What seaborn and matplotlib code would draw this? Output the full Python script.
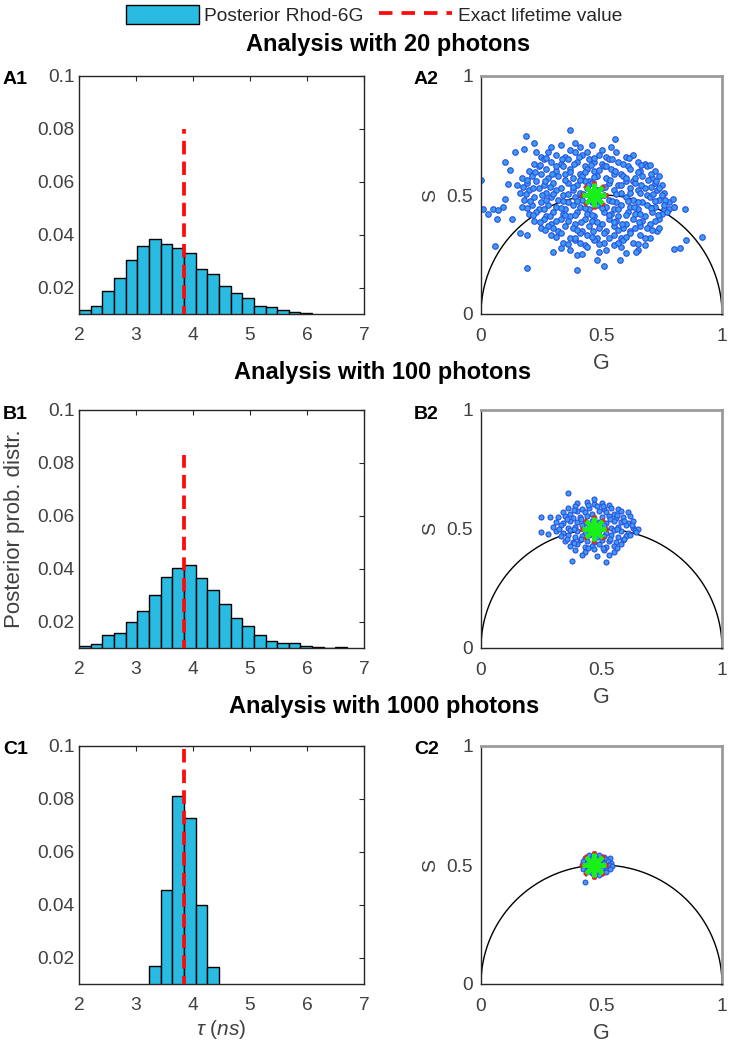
import numpy as np
import pandas as pd
import matplotlib
matplotlib.use("Agg")
import matplotlib.pyplot as plt
import seaborn as sns
from matplotlib.patches import Patch
from matplotlib.lines import Line2D

# ---------------- data ----------------
BIN_START = 2.0
BIN_W = 0.2045
TAU_EXACT = 3.85

hist_A = [0.0115, 0.0131, 0.0186, 0.0238, 0.0304, 0.0356, 0.0384, 0.0366, 0.0351, 0.0330,
          0.0271, 0.0250, 0.0206, 0.0181, 0.0159, 0.0130, 0.0127, 0.0116, 0.0107, 0.0102]
hist_B = [0.0106, 0.0116, 0.0150, 0.0155, 0.0198, 0.0241, 0.0300, 0.0370, 0.0403, 0.0413,
          0.0366, 0.0318, 0.0268, 0.0213, 0.0183, 0.0150, 0.0127, 0.0119, 0.0118, 0.0106,
          0.0103, 0.0100, 0.0103]
hist_C = [0.0169, 0.0454, 0.0811, 0.0728, 0.0397, 0.0163]
hist_first_bin = [0, 0, 6]
line_top = [0.080, 0.083, 0.100]

x_ticks = [2, 3, 4, 5, 6, 7]
y_ticks = [0.02, 0.04, 0.06, 0.08, 0.1]
y_tick_labels = ["0.02", "0.04", "0.06", "0.08", "0.1"]
ph_ticks = [0, 0.5, 1]
ph_tick_labels = ["0", "0.5", "1"]

titles = ["Analysis with 20 photons", "Analysis with 100 photons", "Analysis with 1000 photons"]
panel_left = ["A1", "B1", "C1"]
panel_right = ["A2", "B2", "C2"]
legend_labels = ["Posterior Rhod-6G", "Exact lifetime value"]

phasor_exact = (0.47, 0.50)

phasor_A = [
    (0.29, 0.70), (0.33, 0.71), (0.37, 0.69), (0.41, 0.70), (0.46, 0.71), (0.50, 0.69), (0.54, 0.70), (0.39, 0.72), (0.44, 0.68),
    (0.25, 0.66), (0.28, 0.68), (0.31, 0.67), (0.35, 0.66), (0.39, 0.68), (0.42, 0.67), (0.45, 0.65), (0.49, 0.67), (0.52, 0.66), (0.56, 0.68), (0.60, 0.66), (0.63, 0.67),
    (0.22, 0.63), (0.26, 0.65), (0.29, 0.64), (0.33, 0.63), (0.36, 0.65), (0.40, 0.64), (0.43, 0.62), (0.47, 0.64), (0.50, 0.63), (0.53, 0.65), (0.57, 0.64), (0.61, 0.62), (0.65, 0.64), (0.68, 0.63),
    (0.20, 0.60), (0.24, 0.62), (0.27, 0.61), (0.31, 0.60), (0.34, 0.62), (0.37, 0.61), (0.41, 0.59), (0.44, 0.61), (0.47, 0.60), (0.51, 0.62), (0.54, 0.61), (0.58, 0.59), (0.62, 0.61), (0.66, 0.60), (0.69, 0.62), (0.72, 0.60),
    (0.17, 0.57), (0.21, 0.58), (0.25, 0.59), (0.28, 0.57), (0.32, 0.58), (0.35, 0.59), (0.38, 0.57), (0.42, 0.58), (0.45, 0.56), (0.48, 0.58), (0.52, 0.57), (0.55, 0.59), (0.59, 0.58), (0.63, 0.56), (0.67, 0.58), (0.71, 0.57), (0.74, 0.58),
    (0.15, 0.54), (0.19, 0.55), (0.23, 0.56), (0.26, 0.54), (0.30, 0.55), (0.33, 0.53), (0.36, 0.55), (0.40, 0.54), (0.43, 0.56), (0.46, 0.55), (0.50, 0.53), (0.53, 0.55), (0.57, 0.54), (0.60, 0.56), (0.64, 0.55), (0.68, 0.53), (0.72, 0.55), (0.75, 0.54),
    (0.16, 0.51), (0.20, 0.52), (0.24, 0.53), (0.27, 0.51), (0.31, 0.52), (0.34, 0.50), (0.38, 0.52), (0.41, 0.51), (0.44, 0.53), (0.48, 0.52), (0.51, 0.50), (0.55, 0.52), (0.58, 0.51), (0.62, 0.53), (0.65, 0.52), (0.69, 0.50), (0.73, 0.52), (0.76, 0.51),
    (0.18, 0.48), (0.22, 0.49), (0.25, 0.47), (0.29, 0.49), (0.32, 0.48), (0.36, 0.47), (0.39, 0.49), (0.42, 0.48), (0.46, 0.47), (0.49, 0.49), (0.53, 0.48), (0.56, 0.47), (0.60, 0.49), (0.63, 0.48), (0.67, 0.47), (0.70, 0.49), (0.74, 0.48), (0.78, 0.47),
    (0.17, 0.45), (0.21, 0.46), (0.24, 0.44), (0.28, 0.46), (0.31, 0.45), (0.35, 0.44), (0.38, 0.46), (0.41, 0.45), (0.45, 0.44), (0.48, 0.46), (0.52, 0.45), (0.55, 0.44), (0.58, 0.46), (0.62, 0.45), (0.65, 0.44), (0.69, 0.46), (0.72, 0.45), (0.76, 0.44), (0.80, 0.45),
    (0.20, 0.42), (0.23, 0.43), (0.27, 0.41), (0.30, 0.43), (0.34, 0.42), (0.37, 0.41), (0.40, 0.43), (0.44, 0.42), (0.47, 0.41), (0.51, 0.43), (0.54, 0.42), (0.57, 0.41), (0.61, 0.43), (0.64, 0.42), (0.68, 0.41), (0.71, 0.43), (0.75, 0.42),
    (0.22, 0.39), (0.26, 0.40), (0.29, 0.38), (0.33, 0.40), (0.36, 0.39), (0.39, 0.38), (0.43, 0.40), (0.46, 0.39), (0.50, 0.38), (0.53, 0.40), (0.56, 0.39), (0.60, 0.38), (0.63, 0.40), (0.67, 0.39), (0.70, 0.38), (0.74, 0.40),
    (0.25, 0.36), (0.28, 0.37), (0.32, 0.35), (0.35, 0.37), (0.38, 0.36), (0.42, 0.35), (0.45, 0.37), (0.49, 0.36), (0.52, 0.35), (0.55, 0.37), (0.59, 0.36), (0.62, 0.35), (0.66, 0.37), (0.69, 0.36), (0.73, 0.35),
    (0.29, 0.33), (0.33, 0.34), (0.37, 0.32), (0.41, 0.34), (0.44, 0.33), (0.48, 0.32), (0.51, 0.34), (0.55, 0.33), (0.58, 0.32), (0.62, 0.34), (0.66, 0.33), (0.70, 0.32),
    (0.34, 0.30), (0.39, 0.31), (0.43, 0.29), (0.47, 0.31), (0.51, 0.30), (0.55, 0.29), (0.59, 0.31), (0.63, 0.30), (0.68, 0.29),
    (0.37, 0.27), (0.44, 0.28), (0.52, 0.27), (0.58, 0.28), (0.65, 0.27),
    (0.37, 0.595), (0.43, 0.595), (0.49, 0.605), (0.555, 0.60), (0.35, 0.565), (0.41, 0.565), (0.47, 0.575), (0.535, 0.565), (0.60, 0.57),
    (0.38, 0.535), (0.445, 0.54), (0.515, 0.535), (0.58, 0.54), (0.36, 0.505), (0.425, 0.505), (0.56, 0.505), (0.62, 0.51),
    (0.40, 0.475), (0.475, 0.475), (0.545, 0.475), (0.61, 0.475), (0.43, 0.445), (0.50, 0.445), (0.57, 0.44),
    (0.39, 0.415), (0.46, 0.415), (0.53, 0.415), (0.60, 0.415), (0.48, 0.385), (0.55, 0.385),
    (0.27, 0.655), (0.335, 0.65), (0.405, 0.66), (0.47, 0.655), (0.545, 0.65), (0.615, 0.655),
    (0.245, 0.625), (0.31, 0.62), (0.385, 0.63), (0.455, 0.625), (0.52, 0.62), (0.59, 0.63), (0.665, 0.625),
    (0.225, 0.595), (0.295, 0.59), (0.65, 0.595), (0.705, 0.59),
    (0.19, 0.565), (0.265, 0.56), (0.64, 0.57), (0.695, 0.565), (0.725, 0.56),
    (0.175, 0.535), (0.215, 0.53), (0.285, 0.535), (0.665, 0.54), (0.705, 0.535), (0.74, 0.53),
    (0.185, 0.505), (0.255, 0.50), (0.30, 0.505), (0.66, 0.51), (0.715, 0.505), (0.75, 0.50),
    (0.205, 0.475), (0.27, 0.48), (0.34, 0.475), (0.65, 0.47), (0.72, 0.475), (0.765, 0.48),
    (0.19, 0.445), (0.26, 0.44), (0.33, 0.445), (0.635, 0.45), (0.705, 0.445), (0.78, 0.44),
    (0.215, 0.415), (0.285, 0.41), (0.35, 0.415), (0.66, 0.42), (0.735, 0.415),
    (0.245, 0.385), (0.31, 0.39), (0.415, 0.385), (0.585, 0.38), (0.655, 0.385), (0.72, 0.39),
    (0.265, 0.355), (0.30, 0.36), (0.40, 0.355), (0.465, 0.35), (0.57, 0.355), (0.64, 0.36), (0.71, 0.355),
    (0.31, 0.325), (0.39, 0.32), (0.46, 0.325), (0.53, 0.32), (0.60, 0.325), (0.68, 0.32),
    (0.36, 0.295), (0.41, 0.30), (0.49, 0.295), (0.57, 0.30), (0.65, 0.295),
    (0.00, 0.561), (0.01, 0.443), (0.03, 0.42), (0.05, 0.443), (0.07, 0.436), (0.065, 0.40), (0.06, 0.287), (0.10, 0.485),
    (0.09, 0.45), (0.10, 0.64), (0.11, 0.547), (0.12, 0.603), (0.14, 0.68), (0.13, 0.40), (0.16, 0.34), (0.19, 0.195),
    (0.185, 0.749), (0.18, 0.694), (0.19, 0.33), (0.22, 0.72), (0.23, 0.68), (0.37, 0.774), (0.40, 0.185), (0.40, 0.248),
    (0.30, 0.26), (0.33, 0.276), (0.42, 0.25), (0.48, 0.227), (0.51, 0.203), (0.49, 0.262), (0.555, 0.735), (0.575, 0.227),
    (0.60, 0.255), (0.645, 0.262), (0.70, 0.627), (0.74, 0.36), (0.80, 0.273), (0.825, 0.276), (0.85, 0.31), (0.915, 0.325),
    (0.845, 0.443), (0.795, 0.485), (0.80, 0.45), (0.76, 0.457), (0.77, 0.43),
]

phasor_B = [
    (0.40, 0.61), (0.44, 0.615), (0.47, 0.605), (0.50, 0.61), (0.53, 0.60),
    (0.36, 0.59), (0.39, 0.595), (0.42, 0.585), (0.45, 0.59), (0.48, 0.595), (0.51, 0.585), (0.54, 0.59), (0.57, 0.585),
    (0.34, 0.57), (0.37, 0.565), (0.40, 0.575), (0.43, 0.57), (0.46, 0.565), (0.49, 0.575), (0.52, 0.57), (0.55, 0.565), (0.58, 0.575), (0.61, 0.57),
    (0.32, 0.55), (0.35, 0.555), (0.38, 0.545), (0.41, 0.55), (0.44, 0.555), (0.47, 0.545), (0.50, 0.55), (0.53, 0.555), (0.56, 0.545), (0.59, 0.55), (0.62, 0.555),
    (0.31, 0.53), (0.34, 0.525), (0.37, 0.535), (0.40, 0.53), (0.43, 0.525), (0.46, 0.535), (0.49, 0.53), (0.52, 0.525), (0.55, 0.535), (0.58, 0.53), (0.61, 0.525), (0.63, 0.535),
    (0.30, 0.51), (0.33, 0.515), (0.36, 0.505), (0.39, 0.51), (0.42, 0.515), (0.45, 0.505), (0.48, 0.51), (0.51, 0.515), (0.54, 0.505), (0.57, 0.51), (0.60, 0.515), (0.63, 0.505),
    (0.31, 0.49), (0.34, 0.485), (0.37, 0.495), (0.40, 0.49), (0.43, 0.485), (0.46, 0.495), (0.49, 0.49), (0.52, 0.485), (0.55, 0.495), (0.58, 0.49), (0.61, 0.485), (0.64, 0.495),
    (0.33, 0.47), (0.36, 0.475), (0.39, 0.465), (0.42, 0.47), (0.45, 0.475), (0.48, 0.465), (0.51, 0.47), (0.54, 0.475), (0.57, 0.465), (0.60, 0.47), (0.62, 0.475),
    (0.35, 0.45), (0.38, 0.445), (0.41, 0.455), (0.44, 0.45), (0.47, 0.445), (0.50, 0.455), (0.53, 0.45), (0.56, 0.445), (0.59, 0.455),
    (0.37, 0.43), (0.40, 0.435), (0.43, 0.425), (0.46, 0.43), (0.49, 0.435), (0.52, 0.425), (0.55, 0.43), (0.58, 0.435),
    (0.39, 0.41), (0.43, 0.405), (0.47, 0.415), (0.51, 0.41), (0.55, 0.405),
    (0.42, 0.39), (0.48, 0.385), (0.53, 0.39),
    (0.385, 0.58), (0.445, 0.60), (0.505, 0.595), (0.565, 0.56), (0.355, 0.54), (0.415, 0.54), (0.535, 0.54), (0.595, 0.535),
    (0.325, 0.50), (0.385, 0.50), (0.565, 0.50), (0.625, 0.515), (0.355, 0.46), (0.415, 0.46), (0.535, 0.46), (0.595, 0.46),
    (0.385, 0.44), (0.445, 0.42), (0.505, 0.42), (0.565, 0.42),
    (0.36, 0.65), (0.25, 0.55), (0.25, 0.486), (0.28, 0.48), (0.285, 0.55), (0.376, 0.367), (0.52, 0.363),
    (0.65, 0.50), (0.645, 0.486), (0.47, 0.625),
]

phasor_C = [
    (0.45, 0.54), (0.47, 0.545), (0.49, 0.54), (0.51, 0.535),
    (0.43, 0.53), (0.44, 0.525), (0.46, 0.53), (0.48, 0.525), (0.50, 0.53), (0.52, 0.525), (0.535, 0.53),
    (0.425, 0.515), (0.44, 0.51), (0.455, 0.515), (0.47, 0.51), (0.49, 0.515), (0.51, 0.51), (0.525, 0.515), (0.54, 0.51),
    (0.42, 0.50), (0.435, 0.495), (0.45, 0.50), (0.47, 0.495), (0.49, 0.50), (0.51, 0.495), (0.53, 0.50), (0.545, 0.495),
    (0.425, 0.485), (0.44, 0.48), (0.46, 0.485), (0.48, 0.48), (0.50, 0.485), (0.52, 0.48), (0.535, 0.485),
    (0.44, 0.47), (0.46, 0.465), (0.48, 0.47), (0.50, 0.465), (0.52, 0.47),
    (0.47, 0.458), (0.49, 0.46),
    (0.43, 0.427),
]

# ---------------- style ----------------
sns.set_style("white")
plt.rcParams["font.family"] = ["Liberation Sans", "DejaVu Sans"]
plt.rcParams["mathtext.fontset"] = "custom"
plt.rcParams["mathtext.rm"] = "Liberation Sans"
plt.rcParams["mathtext.it"] = "Liberation Sans:italic"

HIST_COLOR = "#29BBE2"
AX_COLOR = "#262626"
TXT_COLOR = "#404040"
DASH_RED = "#FF0A0A"

W, H = 731, 1050
fig = plt.figure(figsize=(W / 100, H / 100), dpi=100)


def fx(px):
    return px / W


def fy(py):
    return 1 - py / H


hist_left, hist_right = 79, 364
ph_left, ph_right = 481, 722
row_tops = [76, 410, 746]
row_h = 238
title_y = [44, 373, 707]
title_x = [388, 383, 384]

hist_sets = [hist_A, hist_B, hist_C]
ph_sets = [phasor_A, phasor_B, phasor_C]
ph_sizes = [16, 13, 12]

for r in range(3):
    top = row_tops[r]
    # ---- histogram ----
    ax = fig.add_axes([fx(hist_left), fy(top + row_h), fx(hist_right - hist_left), row_h / H])
    h = list(hist_sets[r])
    first = hist_first_bin[r]
    idx = np.arange(first, first + len(h))
    centers = BIN_START + BIN_W * (idx + 0.5)
    edges = [float(v) for v in BIN_START + BIN_W * np.arange(first, first + len(h) + 1)]
    df = pd.DataFrame({"tau": centers, "w": h})
    sns.histplot(data=df, x="tau", weights="w", bins=edges, ax=ax, color=HIST_COLOR,
                 edgecolor="black", linewidth=1.0, alpha=1.0, zorder=2)
    ax.plot([TAU_EXACT, TAU_EXACT], [0, line_top[r]], color=DASH_RED, lw=2.7,
            dashes=(3.6, 1.9), zorder=3, dash_capstyle="butt")
    ax.set_xlim(2, 7)
    ax.set_ylim(0.01, 0.1)
    ax.set_xticks(x_ticks)
    ax.set_xticklabels([str(t) for t in x_ticks])
    ax.set_yticks(y_ticks)
    ax.set_yticklabels(y_tick_labels)
    ax.set_ylabel("")
    ax.set_xlabel("")
    ax.tick_params(axis="both", direction="in", top=True, right=True, length=3.5,
                   width=0.8, color=AX_COLOR, labelcolor=TXT_COLOR, labelsize=13.8)
    ax.tick_params(axis="x", pad=9.5)
    ax.tick_params(axis="y", pad=3)
    for sp in ax.spines.values():
        sp.set_color(AX_COLOR)
        sp.set_linewidth(1.0)
    if r == 2:
        ax.set_xlabel(r"$\tau\ (ns)$", fontsize=15, color=TXT_COLOR, labelpad=3)
    fig.text(fx(3), fy(top + 4), panel_left[r], fontsize=14, fontweight="bold",
             ha="left", va="center", color="black")

    # ---- phasor ----
    ax2 = fig.add_axes([fx(ph_left), fy(top + row_h), fx(ph_right - ph_left), row_h / H])
    theta = np.linspace(0, np.pi, 300)
    ax2.plot(0.5 + 0.5 * np.cos(theta), 0.5 * np.sin(theta), color="black", lw=1.0, zorder=1)
    pts = pd.DataFrame(ph_sets[r], columns=["G", "S"])
    sns.scatterplot(data=pts, x="G", y="S", ax=ax2, s=ph_sizes[r], color="#3A9CF2",
                    edgecolor="#2B4FE0", linewidth=0.8, zorder=2, legend=False)
    ax2.plot([phasor_exact[0]], [phasor_exact[1]], marker=(8, 2, 0), markersize=20,
             mew=2.8, color="#E8202A", linestyle="none", zorder=3)
    ax2.plot([phasor_exact[0]], [phasor_exact[1]], marker=(8, 2, 0), markersize=17,
             mew=3.0, color="#19F019", linestyle="none", zorder=4)
    ax2.set_xlim(0, 1)
    ax2.set_ylim(0, 1)
    ax2.set_xticks(ph_ticks)
    ax2.set_xticklabels(ph_tick_labels)
    ax2.set_yticks(ph_ticks)
    ax2.set_yticklabels(ph_tick_labels)
    ax2.tick_params(axis="both", direction="in", length=3, width=0.8, color=AX_COLOR,
                    labelcolor=TXT_COLOR, labelsize=13.8)
    ax2.tick_params(axis="x", pad=10)
    ax2.tick_params(axis="y", pad=6)
    ax2.set_xlabel("G", fontsize=15.5, color=TXT_COLOR, labelpad=6)
    ax2.set_ylabel("S", fontsize=14, color=TXT_COLOR, labelpad=5)
    for k in ["left", "bottom"]:
        ax2.spines[k].set_color(AX_COLOR)
        ax2.spines[k].set_linewidth(1.0)
    for k in ["top", "right"]:
        ax2.spines[k].set_color("#9A9A9A")
        ax2.spines[k].set_linewidth(2.0)
    fig.text(fx(414), fy(top + 4), panel_right[r], fontsize=14, fontweight="bold",
             ha="left", va="center", color="black")

    # ---- row title ----
    fig.text(fx(title_x[r]), fy(title_y[r]), titles[r], fontsize=17, fontweight="bold",
             ha="center", va="center", color="black")

# y label for histograms
fig.text(fx(15), fy(row_tops[1] + row_h / 2), "Posterior prob. distr.", rotation=90,
         fontsize=16, color=TXT_COLOR, ha="center", va="center")

# legend
handles = [Patch(facecolor=HIST_COLOR, edgecolor="black", linewidth=1.0),
           Line2D([0], [0], color=DASH_RED, lw=2.7, dashes=(3.6, 2.4))]
leg = fig.legend(handles=handles, labels=legend_labels, loc="center",
                 bbox_to_anchor=(fx(374), fy(15)), ncol=2, frameon=False, fontsize=13.8,
                 handlelength=3.8, handleheight=1.1, handletextpad=0.3, columnspacing=0.8)
for t in leg.get_texts():
    t.set_color(AX_COLOR)

fig.savefig("out.png", dpi=100)
